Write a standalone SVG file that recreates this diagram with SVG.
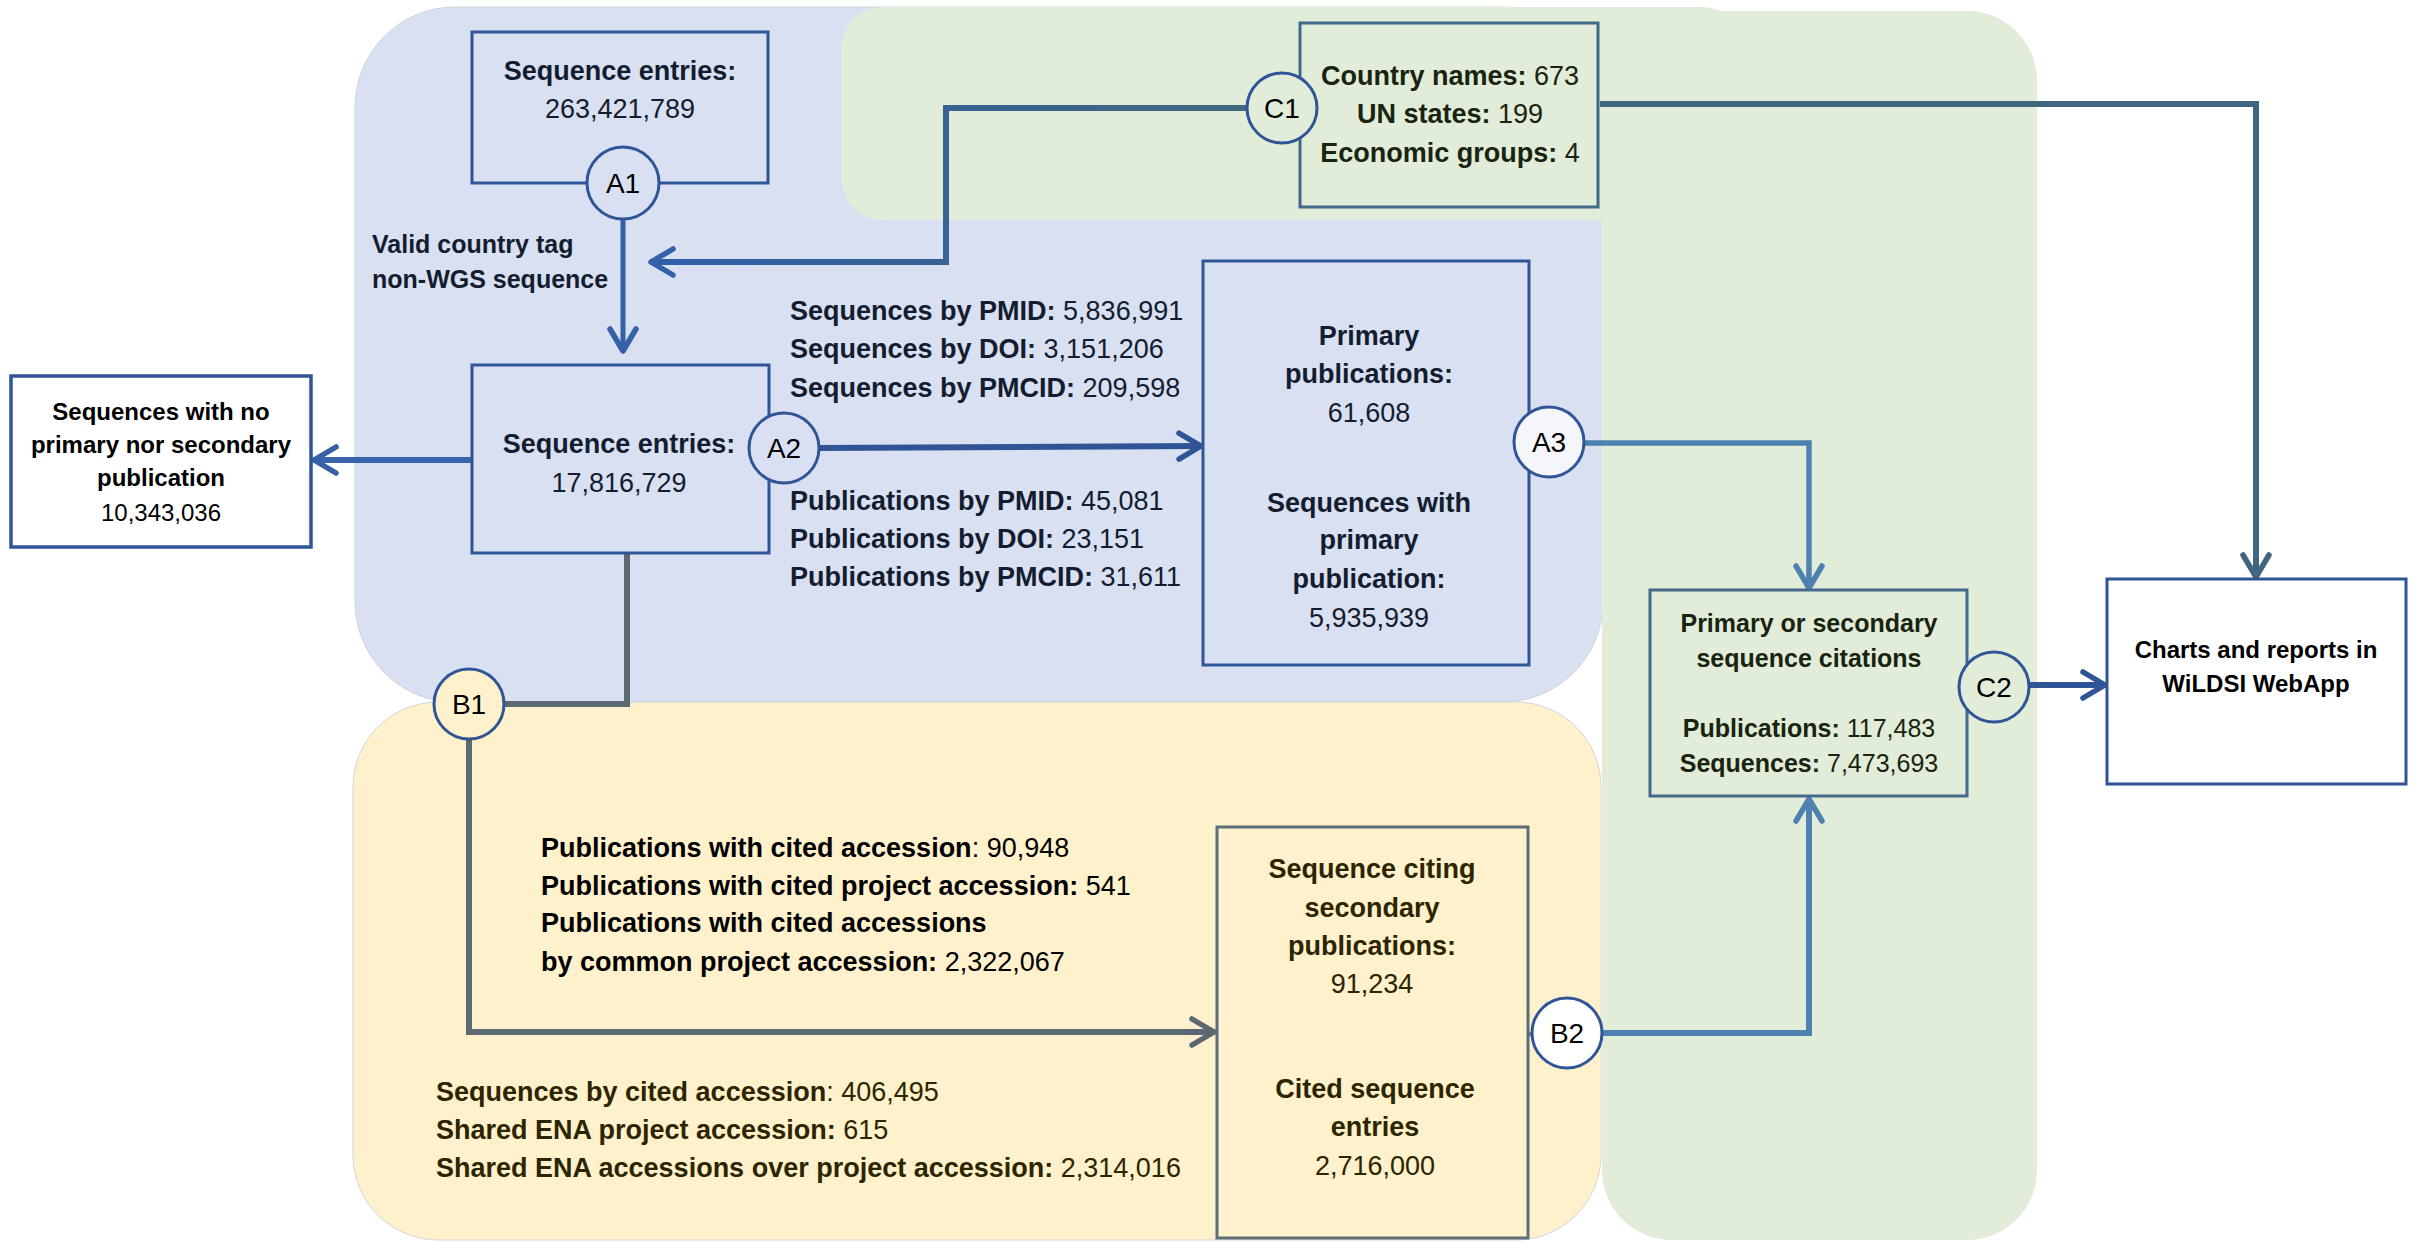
<svg xmlns="http://www.w3.org/2000/svg" width="2420" height="1243" viewBox="0 0 2420 1243">
<defs>
<style>
text{font-family:"Liberation Sans",Arial,sans-serif;font-size:27px;text-anchor:middle}
.b{font-weight:bold}
.l{text-anchor:start}
.tb{fill:#141c30}
.tg{fill:#18240f}
.ty{fill:#2c2500}
.tk{fill:#000}
.s24{font-size:24px}
.s25{font-size:25px}
.box{stroke-width:3}
.circ{stroke:#2f5597;stroke-width:3}
.region{stroke:#cfd5dc;stroke-width:1}
.conn{fill:none;stroke-linejoin:miter}
.cl{font-size:28px}
</style>
<linearGradient id="gC1" gradientUnits="userSpaceOnUse" x1="1248" y1="0" x2="650" y2="0">
<stop offset="0" stop-color="#42677f"/><stop offset="1" stop-color="#2e5fa9"/>
</linearGradient>
<marker id="mBlue" viewBox="-28 -16 32 32" refX="1" refY="0" markerWidth="32" markerHeight="32" markerUnits="userSpaceOnUse" orient="auto"><path d="M-22,-13 L0,0 L-22,13" fill="none" stroke="#3561a8" stroke-width="5.5" stroke-linecap="round" stroke-linejoin="round"/></marker>
<marker id="mDark" viewBox="-28 -16 32 32" refX="1" refY="0" markerWidth="32" markerHeight="32" markerUnits="userSpaceOnUse" orient="auto"><path d="M-22,-13 L0,0 L-22,13" fill="none" stroke="#2f5597" stroke-width="5.5" stroke-linecap="round" stroke-linejoin="round"/></marker>
<marker id="mSteel" viewBox="-28 -16 32 32" refX="1" refY="0" markerWidth="32" markerHeight="32" markerUnits="userSpaceOnUse" orient="auto"><path d="M-22,-13 L0,0 L-22,13" fill="none" stroke="#4f81b0" stroke-width="5.5" stroke-linecap="round" stroke-linejoin="round"/></marker>
<marker id="mSlate" viewBox="-28 -16 32 32" refX="1" refY="0" markerWidth="32" markerHeight="32" markerUnits="userSpaceOnUse" orient="auto"><path d="M-22,-13 L0,0 L-22,13" fill="none" stroke="#3f6580" stroke-width="5.5" stroke-linecap="round" stroke-linejoin="round"/></marker>
<marker id="mGray" viewBox="-28 -16 32 32" refX="1" refY="0" markerWidth="32" markerHeight="32" markerUnits="userSpaceOnUse" orient="auto"><path d="M-22,-13 L0,0 L-22,13" fill="none" stroke="#5b6970" stroke-width="5.5" stroke-linecap="round" stroke-linejoin="round"/></marker>
</defs>
<rect width="2420" height="1243" fill="#ffffff"/>

<g id="regions">
<rect class="region" x="355" y="7" width="1248" height="695" rx="100" ry="100" fill="#d8e0f1"/>
<rect class="region" x="353" y="702" width="1248" height="538" rx="85" ry="85" fill="#fff1cb"/>
<rect x="842" y="7" width="900" height="213" rx="40" ry="40" fill="#e1ecd9"/>
<rect x="1602" y="11" width="435" height="1229" rx="70" ry="70" fill="#e1ecd9"/>
</g>

<g id="connectors">
<path class="conn" d="M623,219 L623,352" stroke="#3561a8" stroke-width="5" marker-end="url(#mBlue)"/>
<path class="conn" d="M1248,108 L946,108 L946,262 L650,262" stroke="url(#gC1)" stroke-width="6" marker-end="url(#mBlue)"/>
<path class="conn" d="M472,460 L313,460" stroke="#3a63ad" stroke-width="6" marker-end="url(#mBlue)"/>
<path class="conn" d="M819,448 L1202,446" stroke="#2f5597" stroke-width="6" marker-end="url(#mDark)"/>
<path class="conn" d="M1203,445 L1515,441" stroke="#4a7cc6" stroke-width="5"/>
<path class="conn" d="M1584,443 L1809,443 L1809,589" stroke="#4f81b0" stroke-width="5.5" marker-end="url(#mSteel)"/>
<path class="conn" d="M627,553 L627,704 L504,704" stroke="#5b6970" stroke-width="6"/>
<path class="conn" d="M469,740 L469,1032 L1215,1032" stroke="#5b6970" stroke-width="6" marker-end="url(#mGray)"/>
<path class="conn" d="M1217,1032 L1531,1034" stroke="#6d8c99" stroke-width="5"/>
<path class="conn" d="M1603,1033 L1809,1033 L1809,798" stroke="#4e80b0" stroke-width="6" marker-end="url(#mSteel)"/>
<path class="conn" d="M1600,104 L2256,104 L2256,578" stroke="#3f6580" stroke-width="6" marker-end="url(#mSlate)"/>
<path class="conn" d="M2028,685 L2106,685" stroke="#2f5597" stroke-width="6" marker-end="url(#mDark)"/>
</g>

<g id="seq-entries-all">
<rect class="box" x="472" y="32" width="296" height="151" fill="#d8e0f1" stroke="#2f5597"/>
<text class="tb b" x="620" y="80">Sequence entries:</text>
<text class="tb" x="620" y="118">263,421,789</text>
</g>

<g id="label-valid">
<text class="tb b l s25" x="372" y="253">Valid country tag</text>
<text class="tb b l s25" x="372" y="288">non-WGS sequence</text>
</g>

<g id="seq-entries-valid">
<rect class="box" x="472" y="365" width="297" height="188" fill="#d8e0f1" stroke="#2f5597"/>
<text class="tb b" x="619" y="453">Sequence entries:</text>
<text class="tb" x="619" y="492">17,816,729</text>
</g>

<g id="no-publication">
<rect x="11" y="376" width="300" height="171" fill="#ffffff" stroke="#2f5597" stroke-width="3.5"/>
<text class="tk b s24" x="161" y="420">Sequences with no</text>
<text class="tk b s24" x="161" y="453">primary nor secondary</text>
<text class="tk b s24" x="161" y="486">publication</text>
<text class="tk s24" x="161" y="521">10,343,036</text>
</g>

<g id="label-primary">
<text class="tb l" x="790" y="320"><tspan class="b">Sequences by PMID:</tspan> 5,836,991</text>
<text class="tb l" x="790" y="358"><tspan class="b">Sequences by DOI:</tspan> 3,151,206</text>
<text class="tb l" x="790" y="397"><tspan class="b">Sequences by PMCID:</tspan> 209,598</text>
<text class="tb l" x="790" y="510"><tspan class="b">Publications by PMID:</tspan> 45,081</text>
<text class="tb l" x="790" y="548"><tspan class="b">Publications by DOI:</tspan> 23,151</text>
<text class="tb l" x="790" y="586"><tspan class="b">Publications by PMCID:</tspan> 31,611</text>
</g>

<g id="primary-publications">
<rect class="box" x="1203" y="261" width="326" height="404" fill="#d8e0f1" stroke="#2f5597"/>
<text class="tb b" x="1369" y="345">Primary</text>
<text class="tb b" x="1369" y="383">publications:</text>
<text class="tb" x="1369" y="422">61,608</text>
<text class="tb b" x="1369" y="512">Sequences with</text>
<text class="tb b" x="1369" y="549">primary</text>
<text class="tb b" x="1369" y="588">publication:</text>
<text class="tb" x="1369" y="627">5,935,939</text>
</g>

<g id="country-names">
<rect class="box" x="1300" y="23" width="298" height="184" fill="#e1ecd9" stroke="#41698a"/>
<text class="tg" x="1450" y="85"><tspan class="b">Country names:</tspan> 673</text>
<text class="tg" x="1450" y="123"><tspan class="b">UN states:</tspan> 199</text>
<text class="tg" x="1450" y="162"><tspan class="b">Economic groups:</tspan> 4</text>
</g>

<g id="citations">
<rect class="box" x="1650" y="590" width="317" height="206" fill="#e1ecd9" stroke="#44698a"/>
<text class="tg b s25" x="1809" y="632">Primary or secondary</text>
<text class="tg b s25" x="1809" y="667">sequence citations</text>
<text class="tg s25" x="1809" y="737"><tspan class="b">Publications:</tspan> 117,483</text>
<text class="tg s25" x="1809" y="772"><tspan class="b">Sequences:</tspan> 7,473,693</text>
</g>

<g id="webapp">
<rect x="2107" y="579" width="299" height="205" fill="#ffffff" stroke="#2f5597" stroke-width="3"/>
<text class="tk b s24" x="2256" y="658">Charts and reports in</text>
<text class="tk b s24" x="2256" y="692">WiLDSI WebApp</text>
</g>

<g id="label-secondary">
<text class="tk l" x="541" y="857"><tspan class="b">Publications with cited accession</tspan>: 90,948</text>
<text class="tk l" x="541" y="895"><tspan class="b">Publications with cited project accession:</tspan> 541</text>
<text class="tk l b" x="541" y="932">Publications with cited accessions</text>
<text class="tk l" x="541" y="971"><tspan class="b">by common project accession:</tspan> 2,322,067</text>
<text class="ty l" x="436" y="1101"><tspan class="b">Sequences by cited accession</tspan>: 406,495</text>
<text class="ty l" x="436" y="1139"><tspan class="b">Shared ENA project accession:</tspan> 615</text>
<text class="ty l" x="436" y="1177"><tspan class="b">Shared ENA accessions over project accession:</tspan> 2,314,016</text>
</g>

<g id="secondary-publications">
<rect class="box" x="1217" y="827" width="311" height="411" fill="#fff1cb" stroke="#5d6d7a"/>
<text class="ty b" x="1372" y="878">Sequence citing</text>
<text class="ty b" x="1372" y="917">secondary</text>
<text class="ty b" x="1372" y="955">publications:</text>
<text class="ty" x="1372" y="993">91,234</text>
<text class="ty b" x="1375" y="1098">Cited sequence</text>
<text class="ty b" x="1375" y="1136">entries</text>
<text class="ty" x="1375" y="1175">2,716,000</text>
</g>

<g id="A1"><circle class="circ" cx="623" cy="183" r="36" fill="#d8e0f1"/><text class="tk cl" x="623" y="193">A1</text></g>
<g id="A2"><circle class="circ" cx="784" cy="448" r="35" fill="#d8e0f1"/><text class="tk cl" x="784" y="458">A2</text></g>
<g id="A3"><circle class="circ" cx="1549" cy="442" r="35" fill="#f4f6fb"/><text class="tk cl" x="1549" y="452">A3</text></g>
<g id="B1"><circle class="circ" cx="469" cy="704" r="35" fill="#fff1cb"/><text class="tk cl" x="469" y="714">B1</text></g>
<g id="B2"><circle class="circ" cx="1567" cy="1033" r="35" fill="#ffffff"/><text class="tk cl" x="1567" y="1043">B2</text></g>
<g id="C1"><circle class="circ" cx="1282" cy="108" r="35" fill="#e1ecd9"/><text class="tk cl" x="1282" y="118">C1</text></g>
<g id="C2"><circle class="circ" cx="1994" cy="687" r="35" fill="#e1ecd9"/><text class="tk cl" x="1994" y="697">C2</text></g>
</svg>
